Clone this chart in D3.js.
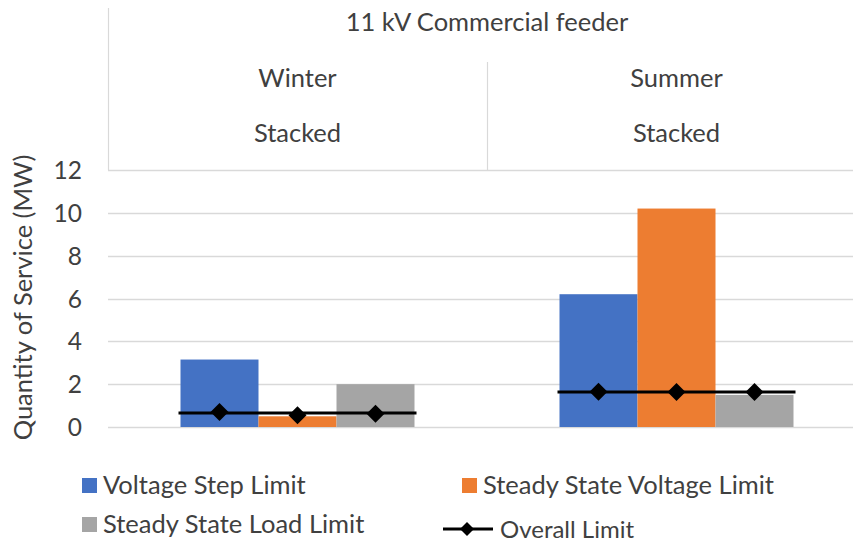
<!DOCTYPE html>
<html><head><meta charset="utf-8">
<script src="https://cdn.jsdelivr.net/npm/d3@7"></script>
<style>
body{margin:0;background:#fff;}
svg text{font-family:Lato,"Open Sans",sans-serif;fill:#404040;}
</style></head>
<body><svg id="c" width="853" height="543"></svg>
<script>
const groups = ["Winter","Summer"];
const subLabel = "Stacked";
const title = "11 kV Commercial feeder";
const series = ["Voltage Step Limit","Steady State Voltage Limit","Steady State Load Limit"];
const colors = ["#4472C4","#ED7D31","#A5A5A5"];
const winterValues = [3.15, 0.5, 2.0];
const summerValues = [6.2, 10.2, 1.5];
const overallWinter = [0.7, 0.55, 0.62];
const overallSummer = [1.65, 1.63, 1.63];
const overallLineLevel = [0.65, 1.63];
const yTicks = [0,2,4,6,8,10,12];
const yLabel = "Quantity of Service (MW)";

const values = [winterValues, summerValues];
const overall = [overallWinter, overallSummer];

const svg = d3.select("#c");
const pL = 108, pR = 866, pT = 170, pB = 427;
const y = d3.scaleLinear().domain([0,12]).range([pB, pT]);
const xg = d3.scaleBand().domain(groups).range([pL, pR]);
const xs = d3.scaleBand().domain(series).range([0, 234]);

// gridlines
svg.append("g").selectAll("line").data(yTicks).join("line")
  .attr("x1", pL).attr("x2", pR)
  .attr("y1", d=>Math.round(y(d))+0.5).attr("y2", d=>Math.round(y(d))+0.5)
  .attr("stroke","#D9D9D9").attr("stroke-width",1.5);

// header lines
svg.append("line").attr("x1",pL+0.5).attr("x2",pL+0.5).attr("y1",8).attr("y2",pT)
  .attr("stroke","#D9D9D9").attr("stroke-width",1.2);
svg.append("line").attr("x1",xg("Summer")+0.5).attr("x2",xg("Summer")+0.5).attr("y1",62).attr("y2",pT)
  .attr("stroke","#D9D9D9").attr("stroke-width",1.2);

// header texts
const hs = "25.5px";
svg.append("text").attr("x",(pL+pR)/2).attr("y",22).attr("dy","0.35em").attr("text-anchor","middle")
  .style("font-size",hs).text(title);
groups.forEach(g=>{
  const cx = xg(g)+xg.bandwidth()/2;
  svg.append("text").attr("x",cx).attr("y",78).attr("dy","0.35em").attr("text-anchor","middle").style("font-size",hs).text(g);
  svg.append("text").attr("x",cx).attr("y",133).attr("dy","0.35em").attr("text-anchor","middle").style("font-size",hs).text(subLabel);
});

// y axis ticks
const yAxis = d3.axisLeft(y).tickValues(yTicks).tickSize(0).tickPadding(0);
const ga = svg.append("g").attr("transform",`translate(82,0)`).call(yAxis);
ga.select(".domain").remove();
ga.selectAll("text").style("font-size","24.5px").style("font-family","Lato, sans-serif").attr("fill","#404040").attr("dy","0.35em");

svg.append("text").attr("transform",`translate(23,${(150+445)/2}) rotate(-90)`)
  .attr("text-anchor","middle").attr("dy","0.35em").style("font-size","25.5px").text(yLabel);

// bars
groups.forEach((g,gi)=>{
  const x0 = xg(g)+xg.bandwidth()/2-117;
  svg.append("g").selectAll("rect").data(values[gi]).join("rect")
    .attr("x",(d,i)=>x0+xs(series[i]))
    .attr("width",xs.bandwidth())
    .attr("y",d=>y(d)).attr("height",d=>y(0)-y(d))
    .attr("fill",(d,i)=>colors[i]);
  const cx = xg(g)+xg.bandwidth()/2;
  svg.append("line").attr("x1",cx-119).attr("x2",cx+119)
    .attr("y1",y(overallLineLevel[gi])).attr("y2",y(overallLineLevel[gi]))
    .attr("stroke","#000").attr("stroke-width",3);
  svg.append("g").selectAll("path").data(overall[gi]).join("path")
    .attr("transform",(d,i)=>`translate(${x0+xs(series[i])+xs.bandwidth()/2},${y(d)})`)
    .attr("d","M0,-9L9,0L0,9L-9,0Z").attr("fill","#000");
});

// legend
const leg = [
  {name:series[0], color:colors[0], x:82, y:485},
  {name:series[1], color:colors[1], x:462, y:485},
  {name:series[2], color:colors[2], x:82, y:524}
];
leg.forEach(l=>{
  svg.append("rect").attr("x",l.x).attr("y",l.y-7).attr("width",15).attr("height",15).attr("fill",l.color);
  svg.append("text").attr("x",l.x+21).attr("y",l.y).attr("dy","0.35em").style("font-size","25.5px").text(l.name);
});
svg.append("line").attr("x1",443).attr("x2",493).attr("y1",529).attr("y2",529).attr("stroke","#000").attr("stroke-width",3);
svg.append("path").attr("transform","translate(467,529)").attr("d","M0,-7L7,0L0,7L-7,0Z").attr("fill","#000");
svg.append("text").attr("x",500).attr("y",530).attr("dy","0.35em").style("font-size","24px").text("Overall Limit");
</script></body></html>
